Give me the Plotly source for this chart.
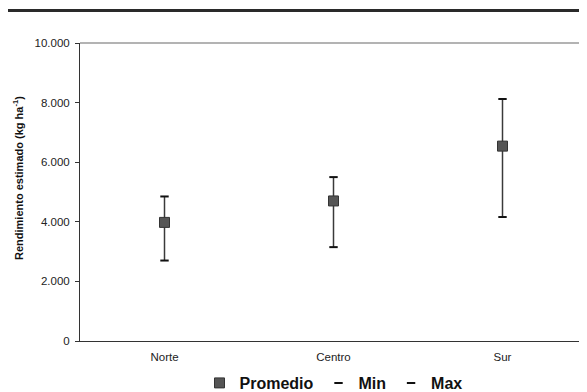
import plotly.graph_objects as go

regiones = ["Norte", "Centro", "Sur"]
promedio = [3980, 4700, 6540]
minimo = [2700, 3150, 4160]
maximo = [4850, 5500, 8120]
y_ticks = [0, 2000, 4000, 6000, 8000, 10000]

err_plus = [mx - m for mx, m in zip(maximo, promedio)]
err_minus = [m - mn for m, mn in zip(promedio, minimo)]

FONT = "Liberation Sans, Arial, sans-serif"

fig = go.Figure()
fig.add_trace(go.Scatter(
    x=regiones, y=promedio, mode="markers", name="Promedio",
    marker=dict(symbol="square", size=10, color="#555555",
                line=dict(color="#333333", width=1)),
    error_y=dict(type="data", array=err_plus, arrayminus=err_minus,
                 width=0, thickness=1.5, color="#3a3a3a"),
))
fig.add_trace(go.Scatter(
    x=regiones, y=minimo, mode="markers", name="Min",
    marker=dict(symbol="line-ew", size=6, line=dict(color="#111111", width=2)),
))
fig.add_trace(go.Scatter(
    x=regiones, y=maximo, mode="markers", name="Max",
    marker=dict(symbol="line-ew", size=6, line=dict(color="#111111", width=2)),
))

# page has an 8px body margin: figure is shifted by (8, 8)
OFF = 8
W, H = 587 - OFF, 392 - OFF
L, R, T, B = 80 - OFF, 0, 43 - OFF, 392 - 341
pw, ph = W - L - R, H - T - B

fig.update_layout(
    width=W, height=H,
    margin=dict(l=L, r=R, t=T, b=B, pad=0, autoexpand=False),
    paper_bgcolor="white", plot_bgcolor="white",
    separators=",.",
    font=dict(family=FONT, size=11, color="#222222"),
    showlegend=True,
    legend=dict(orientation="h", x=0.5, xanchor="center",
                y=-(383 - 341) / ph, yanchor="middle",
                font=dict(size=16, weight="bold", color="#111111"),
                itemwidth=30, tracegroupgap=0, bgcolor="rgba(0,0,0,0)"),
    xaxis=dict(range=[-0.5, 2.5], showgrid=False, zeroline=False,
               showline=True, linecolor="#333333", linewidth=1,
               ticks="", automargin=False, ticklabelstandoff=5,
               tickfont=dict(size=11.5, color="#222222")),
    yaxis=dict(range=[0, 10000], tickvals=y_ticks, tickformat=",d",
               showgrid=False, zeroline=False, showline=True,
               linecolor="#333333", linewidth=1, ticks="outside",
               ticklen=4, tickcolor="#333333", automargin=False,
               ticklabelstandoff=3,
               tickfont=dict(size=11.5, color="#222222")),
    annotations=[
        dict(text="Rendimiento estimado (kg ha<sup>-1</sup>)", textangle=-90,
             xref="paper", yref="paper",
             x=(18 - 80) / pw, y=1 - (178 - 43) / ph,
             xanchor="center", yanchor="middle", showarrow=False,
             font=dict(size=11, weight="bold", color="#111111")),
    ],
    shapes=[
        dict(type="line", xref="paper", yref="paper", x0=0, x1=1, y0=1, y1=1,
             line=dict(color="#9a9a9a", width=1.5)),
        dict(type="line", xref="paper", yref="paper", x0=-L / pw, x1=1,
             y0=1 + (43 - 10.5) / ph, y1=1 + (43 - 10.5) / ph,
             line=dict(color="#2a2a2a", width=3)),
    ],
)

fig.write_html("out.html")
